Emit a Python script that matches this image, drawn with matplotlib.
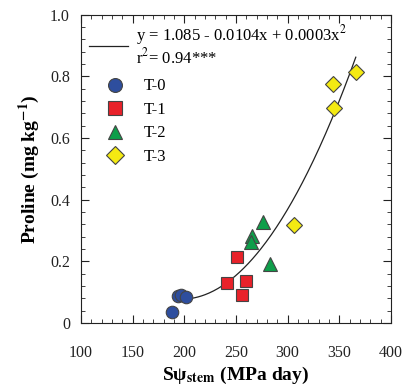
import numpy as np
import matplotlib
matplotlib.use('Agg')
import matplotlib.pyplot as plt
from matplotlib.lines import Line2D
from matplotlib.ticker import MultipleLocator

plt.rcParams['font.family'] = 'Liberation Serif'
plt.rcParams['mathtext.fontset'] = 'stix'

# values
t0_x = [188.5, 194.2, 196.5, 201.6]
t0_y = [0.035, 0.088, 0.092, 0.085]
t1_x = [241.0, 250.7, 259.7, 255.8]
t1_y = [0.128, 0.215, 0.135, 0.091]
t2_x = [276.4, 265.8, 264.2, 283.2]
t2_y = [0.328, 0.282, 0.263, 0.192]
t3_x = [306.1, 343.5, 345.2, 366.1]
t3_y = [0.318, 0.775, 0.698, 0.815]

# drawn fit curve (vertex form)
fit_x0, fit_y0, fit_a = 197.0, 0.077, 2.75e-5
fit_range = (200, 366)

eq_label = 'y = 1.085 - 0.0104x + 0.0003x$^2$\nr$^2$= 0.94***'
group_labels = ['T-0', 'T-1', 'T-2', 'T-3']

fig = plt.figure(figsize=(4.03, 3.90), dpi=100)
ax = fig.add_axes([0.201, 0.172, 0.769, 0.790])

xs = np.linspace(fit_range[0], fit_range[1], 200)
ax.plot(xs, fit_y0 + fit_a * (xs - fit_x0) ** 2, color='#222222', lw=0.9, zorder=2)

styles = [
    (t0_x, t0_y, 'o', '#2E4E9E', 9),
    (t1_x, t1_y, 's', '#E8222A', 8.5),
    (t2_x, t2_y, '^', '#0E9E4A', 9.5),
    (t3_x, t3_y, 'D', '#F4EA12', 8.5),
]
handles = []
for (x, y, m, c, s), lab in zip(styles, group_labels):
    ax.plot(x, y, ls='none', marker=m, ms=s, mfc=c, mec='#444444', mew=0.8, zorder=3)
    handles.append(Line2D([], [], ls='none', marker=m, ms=s + 1, mfc=c,
                          mec='#444444', mew=0.8, label=lab))

ax.set_xlim(100, 400)
ax.set_ylim(0, 1.0)
ax.xaxis.set_major_locator(MultipleLocator(50))
ax.xaxis.set_minor_locator(MultipleLocator(10))
ax.yaxis.set_major_locator(MultipleLocator(0.2))
ax.yaxis.set_minor_locator(MultipleLocator(0.04))
ax.set_yticks([0, 0.2, 0.4, 0.6, 0.8, 1.0])
ax.set_yticklabels(['0', '0.2', '0.4', '0.6', '0.8', '1.0'])
ax.tick_params(which='both', direction='in', top=True, right=True, labelsize=11.5, colors='#222222')
ax.tick_params(which='major', length=6, width=0.8)
ax.tick_params(which='minor', length=3, width=0.6)
ax.tick_params(axis='x', pad=16)
ax.tick_params(axis='y', pad=8)
for sp in ax.spines.values():
    sp.set_linewidth(0.8)
    sp.set_color('#222222')

ax.set_xlabel('S\u03c8$_{\\mathbf{stem}}$ (MPa day)', fontsize=14, fontweight='bold', labelpad=3)
ax.set_ylabel(r'Proline (mg kg$^{\mathbf{-1}}$)', fontsize=14, fontweight='bold', labelpad=6)

leg1 = ax.legend([Line2D([], [], color='#222222', lw=0.9)], [eq_label], loc='upper left',
                 frameon=False, fontsize=12, handlelength=2.3, handletextpad=0.5,
                 borderaxespad=0.0, bbox_to_anchor=(0.005, 0.995))
for t in leg1.get_texts():
    t.set_linespacing(1.05)
ax.add_artist(leg1)
ax.legend(handles=handles, loc='upper left', frameon=False, fontsize=12,
          handletextpad=0.7, labelspacing=0.45, borderaxespad=0.0,
          bbox_to_anchor=(0.035, 0.815))

fig.savefig('out.png', dpi=100)
